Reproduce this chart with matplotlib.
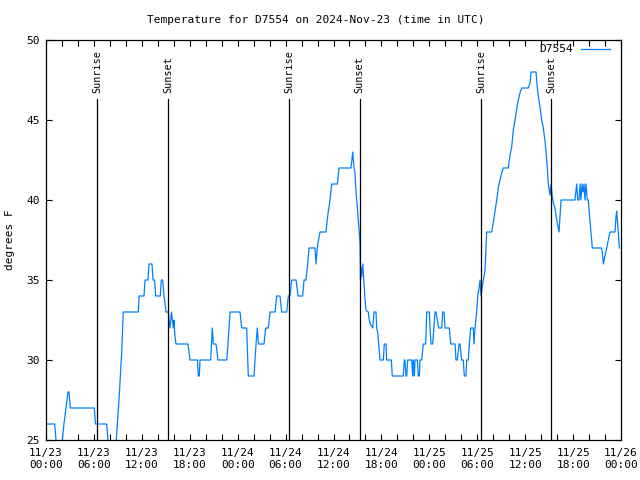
import matplotlib
matplotlib.use("Agg")
import matplotlib.pyplot as plt
import numpy as np

# hours since 2024-11-23 00:00 UTC, temperature in F
hours = [0.00, 1.09, 1.25, 1.38, 1.88, 2.04, 2.25, 2.50, 2.75, 2.88, 3.04, 6.05, 6.20, 7.60, 7.76, 7.89,
         8.64, 8.80, 9.14, 9.48, 9.68, 11.56, 11.65, 12.27, 12.40, 12.77, 12.90, 13.27, 13.40, 13.59,
         13.74, 14.31, 14.44, 14.61, 14.78, 15.03, 15.31, 15.53, 15.71, 15.94, 16.03, 16.15, 16.28,
         17.78, 18.03, 18.97, 19.07, 19.20, 19.28, 20.62, 20.82, 20.95, 21.29, 21.54, 22.63, 22.79,
         23.04, 24.29, 24.51, 25.13, 25.33, 26.05, 26.30, 26.46, 26.61, 27.30, 27.51, 27.84, 28.05,
         28.68, 28.89, 29.30, 29.51, 30.14, 30.34, 30.55, 30.77, 31.31, 31.56, 32.14, 32.31, 32.56,
         32.77, 32.93, 33.68, 33.81, 33.97, 34.12, 34.31, 35.06, 35.27, 35.56, 35.78, 36.48, 36.69,
         38.19, 38.41, 38.48, 38.57, 38.69, 38.82, 38.98, 39.11, 39.19, 39.32, 39.38, 39.44, 39.53,
         39.66, 39.73, 39.86, 39.95, 40.07, 40.36, 40.44, 40.57, 40.91, 41.07, 41.32, 41.41, 41.54,
         41.70, 41.82, 42.24, 42.36, 42.58, 42.66, 43.24, 43.36, 44.74, 44.87, 44.95, 45.08, 45.17,
         45.29, 45.79, 45.92, 45.99, 46.12, 46.21, 46.50, 46.62, 46.75, 46.83, 47.04, 47.25, 47.55,
         47.67, 48.00, 48.09, 48.21, 48.42, 48.71, 48.84, 49.00, 49.17, 49.55, 49.67, 49.84, 49.96,
         50.50, 50.68, 51.22, 51.34, 51.50, 51.72, 51.84, 52.05, 52.25, 52.38, 52.59, 52.68, 52.88,
         53.01, 53.18, 53.51, 53.59, 53.72, 53.93, 54.06, 54.22, 54.35, 54.47, 54.60, 54.97, 55.18,
         55.81, 56.01, 56.22, 56.44, 56.64, 56.85, 57.06, 57.26, 57.89, 58.10, 58.31, 58.52, 58.73,
         58.94, 59.14, 59.35, 59.57, 60.39, 60.61, 60.73, 61.36, 61.52, 61.65, 61.86, 62.07, 62.27,
         62.48, 62.61, 62.77, 62.90, 63.11, 63.24, 63.37, 63.53, 63.74, 63.86, 64.08, 64.24, 64.37,
         64.49, 66.24, 66.45, 66.58, 66.74, 66.87, 66.99, 67.12, 67.24, 67.37, 67.49, 67.62, 67.78,
         67.91, 68.03, 68.25, 68.41, 69.58, 69.71, 69.79, 70.00, 70.21, 70.41, 70.62, 71.25, 71.38,
         71.46, 71.66, 71.79]
temps = [26, 26, 25, 24, 24, 25, 26, 27, 28, 28, 27, 27, 26, 26, 25, 24,
         24, 25, 27.5, 30.5, 33, 33, 34, 34, 35, 35, 36, 36, 35, 35,
         34, 34, 35, 35, 34, 33, 33, 32, 33, 32, 32.5, 31.5, 31,
         31, 30, 30, 29, 29, 30, 30, 32, 31, 31, 30, 30, 31,
         33, 33, 32, 32, 29, 29, 31, 32, 31, 31, 32, 32, 33,
         33, 34, 34, 33, 33, 34, 34, 35, 35, 34, 34, 35, 35,
         36, 37, 37, 36, 37, 37.5, 38, 38, 39, 40, 41, 41, 42,
         42, 43, 42.5, 42, 41.7, 40.5, 39.6, 38.75, 38.3, 37.3, 35, 35.8, 35.2,
         36, 35.5, 34.5, 33.75, 33.1, 33, 32.6, 32.3, 32, 33, 33, 32, 31.7,
         30.7, 30, 30, 31, 31, 30, 30, 29, 29, 30, 30, 29, 29,
         30, 30, 29, 30, 29, 30, 30, 29, 29, 30, 30, 31, 31,
         33, 33, 32, 31, 31, 33, 33, 32.5, 32, 32, 33, 33, 32,
         32, 31, 31, 30, 30, 31, 31, 30, 30, 29, 29, 30, 30,
         31, 32, 32, 31, 32, 33, 34, 34.5, 35, 34, 34.5, 35.6, 38,
         38, 38.6, 39.3, 40, 40.8, 41.25, 41.7, 42, 42, 42.8, 43.3, 44.4, 45,
         45.7, 46.25, 46.7, 47, 47, 47.3, 48, 48, 47, 46.5, 45.8, 45, 44.5,
         43.7, 43, 42, 41, 40.3, 41, 40.3, 39.8, 39.5, 39, 38.4, 38, 39,
         40, 40, 41, 40, 40, 41, 40, 41, 40.5, 41, 40, 41, 40,
         40, 39.2, 37.9, 37, 37, 36.5, 36, 36.5, 37, 37.5, 38, 38, 39,
         39.3, 38, 37]

sunrise = [6.39, 30.46, 54.51]
sunset = [15.31, 39.30, 63.28]

xtick_hours = list(range(0, 73, 6))
xtick_labels = ["11/23\n00:00", "11/23\n06:00", "11/23\n12:00", "11/23\n18:00",
                "11/24\n00:00", "11/24\n06:00", "11/24\n12:00", "11/24\n18:00",
                "11/25\n00:00", "11/25\n06:00", "11/25\n12:00", "11/25\n18:00",
                "11/26\n00:00"]
yticks = [25, 30, 35, 40, 45, 50]

plt.rcParams['font.family'] = ['DejaVu Sans Mono']
FS = 8

fig = plt.figure(figsize=(6.4, 4.8), dpi=100)
ax = fig.add_axes([46/640, 40/480, 575/640, 400/480])

ax.plot(hours, temps, color='#0080ff', lw=0.9, label='D7554')

xt = ax.get_xaxis_transform()
for t in sunrise:
    ax.plot([t, t], [0, 0.8525], color='black', lw=0.9, transform=xt)
    ax.text(t, 0.8675, 'Sunrise', rotation=90, ha='center', va='bottom', fontsize=7.3, transform=xt)
for t in sunset:
    ax.plot([t, t], [0, 0.8525], color='black', lw=0.9, transform=xt)
    ax.text(t, 0.8675, 'Sunset', rotation=90, ha='center', va='bottom', fontsize=7.3, transform=xt)

ax.set_xlim(0, 72)
ax.set_ylim(25, 50)
ax.set_xticks(xtick_hours)
ax.set_xticklabels(xtick_labels, fontsize=FS, linespacing=1.25)
ax.set_xticks(range(0, 73, 2), minor=True)
ax.set_yticks(yticks)
ax.set_yticklabels([str(v) for v in yticks], fontsize=FS)
ax.tick_params(axis='both', which='both', direction='in', top=True, right=True,
               length=4, width=0.8)
ax.tick_params(axis='x', which='major', pad=6)
ax.tick_params(axis='y', which='major', pad=4.5)
for s in ax.spines.values():
    s.set_linewidth(0.9)

fig.text(10/640, 0.5, 'degrees F', rotation=90, ha='center', va='center', fontsize=FS)
fig.text(316/640, 1 - 20/480, 'Temperature for D7554 on 2024-Nov-23 (time in UTC)',
         ha='center', va='center', fontsize=FS)

ax.legend(loc='upper right', bbox_to_anchor=(0.9885, 1.0), borderaxespad=0,
          frameon=False, fontsize=FS, markerfirst=False,
          handlelength=2.6, handletextpad=0.72)

fig.savefig('out.png', dpi=100)
